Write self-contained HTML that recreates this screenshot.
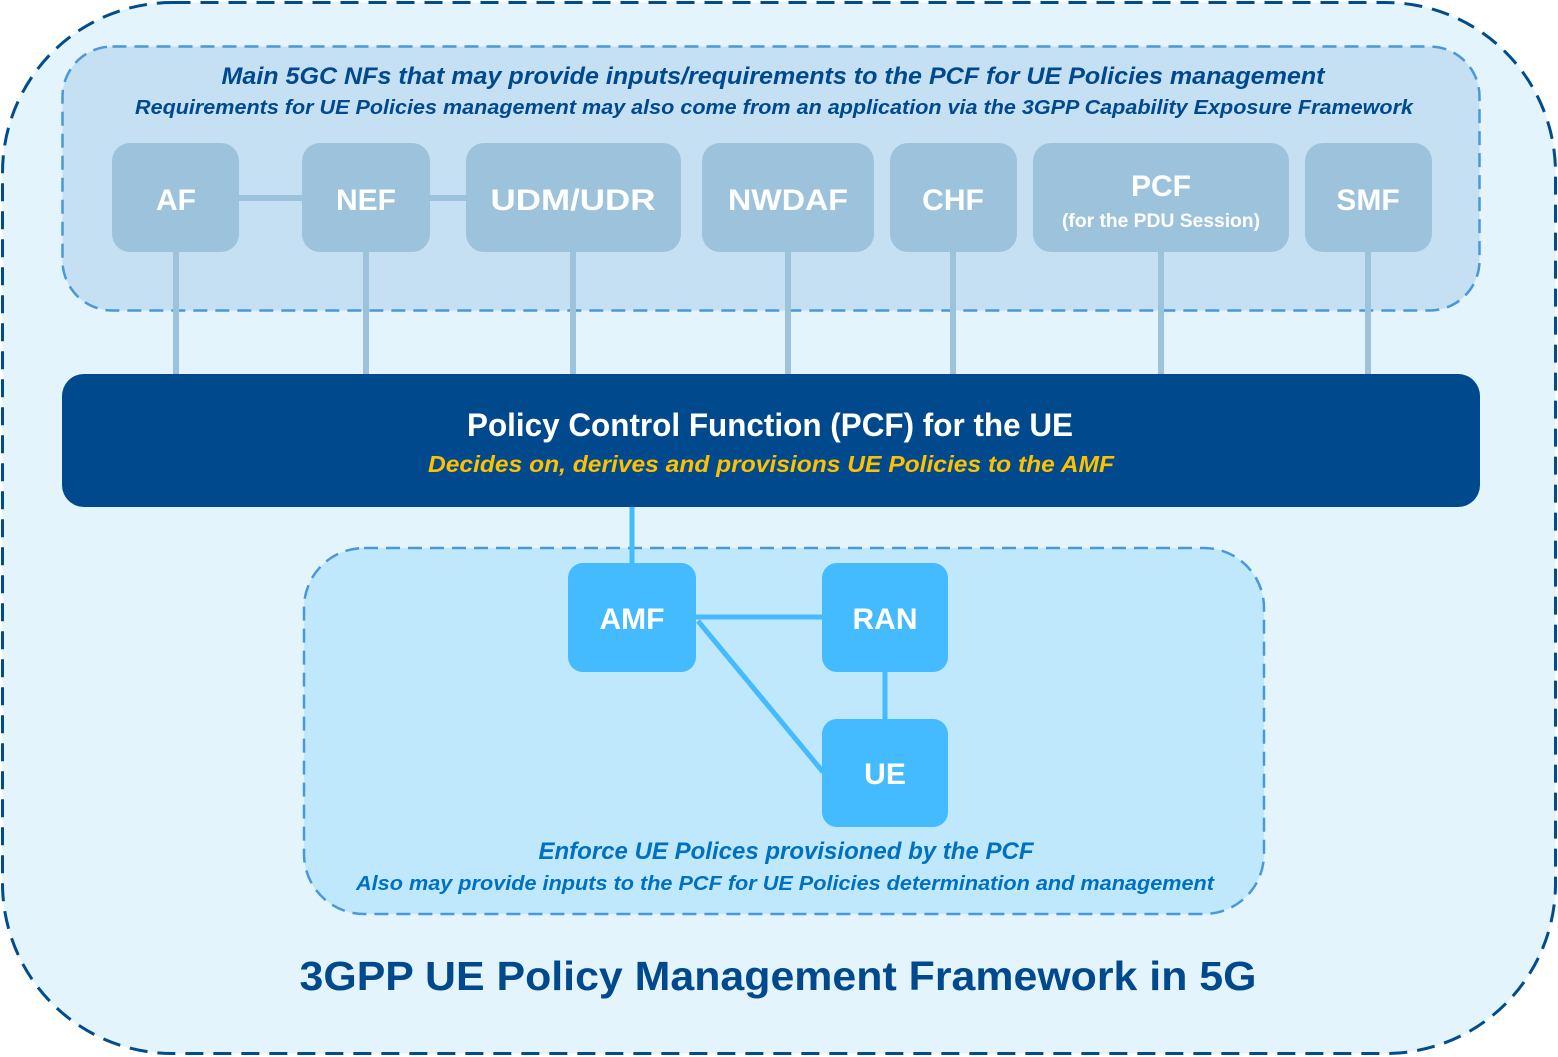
<!DOCTYPE html>
<html><head><meta charset="utf-8"><style>
html,body{margin:0;padding:0;background:#fff;}
svg{display:block;}
text{font-family:"Liberation Sans",sans-serif;font-weight:bold;}
</style></head><body>
<svg width="1558" height="1057" viewBox="0 0 1558 1057" xmlns="http://www.w3.org/2000/svg">
<rect x="2.5" y="2.5" width="1553" height="1051" rx="170" fill="#e3f4fd" stroke="#004c8c" stroke-width="3" stroke-dasharray="18 10"/>
<rect x="62.5" y="46.5" width="1417" height="264" rx="50" fill="#c5e0f3" stroke="#4a97d9" stroke-width="2.5" stroke-dasharray="14 8"/>
<text x="773" y="84" text-anchor="middle" font-size="24" font-style="italic" fill="#00498c" textLength="1103" lengthAdjust="spacingAndGlyphs">Main 5GC NFs that may provide inputs/requirements  to the PCF for UE Policies management</text>
<text x="774" y="114" text-anchor="middle" font-size="20" font-style="italic" fill="#00498c" textLength="1278" lengthAdjust="spacingAndGlyphs">Requirements for UE Policies management  may also come from an application via the 3GPP Capability Exposure Framework</text>
<g stroke="#9dc3dc" stroke-width="6">
<line x1="239" y1="198" x2="302" y2="198"/><line x1="430" y1="198" x2="466" y2="198"/>
<line x1="176" y1="252" x2="176" y2="374"/><line x1="366" y1="252" x2="366" y2="374"/>
<line x1="573" y1="252" x2="573" y2="374"/><line x1="788" y1="252" x2="788" y2="374"/>
<line x1="953" y1="252" x2="953" y2="374"/><line x1="1161" y1="252" x2="1161" y2="374"/>
<line x1="1368" y1="252" x2="1368" y2="374"/>
</g>
<g fill="#9dc3dc">
<rect x="112" y="143" width="127" height="109" rx="18"/>
<rect x="302" y="143" width="128" height="109" rx="18"/>
<rect x="466" y="143" width="215" height="109" rx="18"/>
<rect x="702" y="143" width="172" height="109" rx="18"/>
<rect x="890" y="143" width="127" height="109" rx="18"/>
<rect x="1033" y="143" width="256" height="109" rx="18"/>
<rect x="1305" y="143" width="127" height="109" rx="18"/>
</g>
<g fill="#fff" font-size="30" text-anchor="middle">
<text x="176" y="210">AF</text>
<text x="366" y="210">NEF</text>
<text x="573" y="210" textLength="165" lengthAdjust="spacingAndGlyphs">UDM/UDR</text>
<text x="788" y="210" textLength="120" lengthAdjust="spacingAndGlyphs">NWDAF</text>
<text x="953" y="210">CHF</text>
<text x="1161" y="196">PCF</text>
<text x="1161" y="227" font-size="19" textLength="198" lengthAdjust="spacingAndGlyphs">(for the PDU Session)</text>
<text x="1368" y="210">SMF</text>
</g>
<rect x="62" y="374" width="1418" height="133" rx="22" fill="#00498c"/>
<text x="770" y="436" text-anchor="middle" font-size="32" fill="#fff" textLength="606" lengthAdjust="spacingAndGlyphs">Policy Control Function (PCF) for the UE</text>
<text x="771" y="472" text-anchor="middle" font-size="23" font-style="italic" fill="#ffc000" textLength="686" lengthAdjust="spacingAndGlyphs">Decides on, derives and provisions  UE Policies to the AMF</text>
<rect x="304" y="548" width="960" height="366" rx="60" fill="#c0e8fd" stroke="#4a97d9" stroke-width="2.5" stroke-dasharray="14 8"/>
<g stroke="#44baff" stroke-width="5">
<line x1="632" y1="507" x2="632" y2="565"/>
<line x1="696" y1="617" x2="822" y2="617"/>
<line x1="698" y1="621" x2="823" y2="772"/>
<line x1="885" y1="672" x2="885" y2="719"/>
</g>
<g fill="#44baff">
<rect x="568" y="563" width="128" height="109" rx="15"/>
<rect x="822" y="563" width="126" height="109" rx="15"/>
<rect x="822" y="719" width="126" height="108" rx="15"/>
</g>
<g fill="#fff" font-size="30" text-anchor="middle">
<text x="632" y="629">AMF</text>
<text x="885" y="629">RAN</text>
<text x="885" y="784">UE</text>
</g>
<text x="786" y="859" text-anchor="middle" font-size="24" font-style="italic" fill="#0070c0" textLength="495" lengthAdjust="spacingAndGlyphs">Enforce UE Polices provisioned by the PCF</text>
<text x="785" y="890" text-anchor="middle" font-size="20" font-style="italic" fill="#0070c0" textLength="858" lengthAdjust="spacingAndGlyphs">Also may provide  inputs to the PCF for UE Policies determination and management</text>
<text x="778" y="990" text-anchor="middle" font-size="41" fill="#00498c" textLength="957" lengthAdjust="spacingAndGlyphs">3GPP UE Policy Management Framework in 5G</text>
</svg>
</body></html>
